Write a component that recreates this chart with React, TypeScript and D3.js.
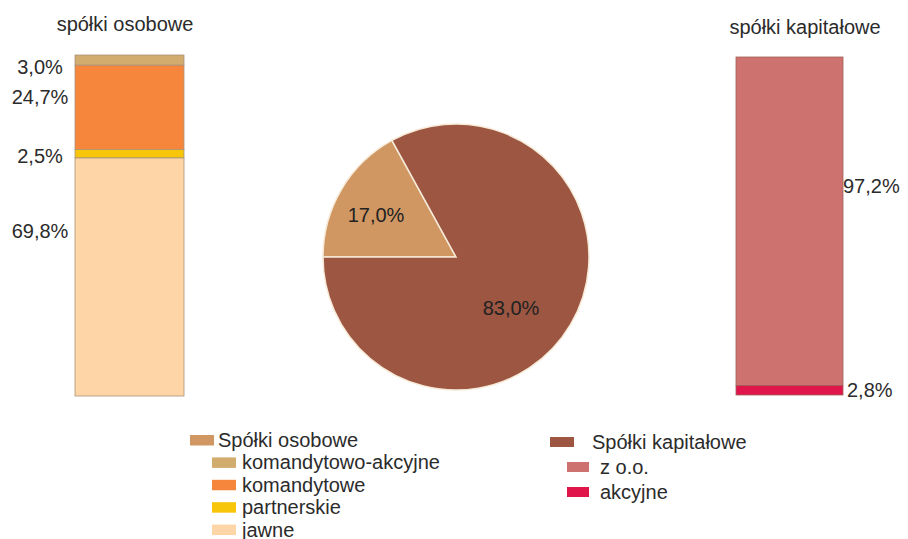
import React from "react";
import * as d3 from "d3";

const pieCategories = ["Spółki osobowe", "Spółki kapitałowe"];
const pieValues = [17.0, 83.0];
const pieLabels = ["17,0%", "83,0%"];

const osoboweCategories = ["komandytowo-akcyjne", "komandytowe", "partnerskie", "jawne"];
const osoboweValues = [3.0, 24.7, 2.5, 69.8];
const osoboweLabels = ["3,0%", "24,7%", "2,5%", "69,8%"];

const kapitaloweCategories = ["z o.o.", "akcyjne"];
const kapitaloweValues = [97.2, 2.8];
const kapitaloweLabels = ["97,2%", "2,8%"];

const W = 908;
const H = 539;
const FONT = "'Liberation Sans', Arial, sans-serif";
const TEXT = "#2b2b2b";
const FS = 20;

const pieColors = ["#D09763", "#9D5641"];
const osoboweColors = ["#D2AB6E", "#F5863C", "#F7C60A", "#FDD5A6"];
const kapitaloweColors = ["#CD726F", "#E0164A"];

function stack(values: number[]) {
  let acc = 0;
  return values.map((v) => {
    const s = acc;
    acc += v;
    return [s, acc];
  });
}

export default function App() {
  const yL = d3.scaleLinear().domain([0, 100]).range([55, 396]);
  const yR = d3.scaleLinear().domain([0, 100]).range([57, 395]);
  const xL = [75, 184];
  const xR = [736, 843];
  const stL = stack(osoboweValues);
  const stR = stack(kapitaloweValues);

  const pie = d3
    .pie<number>()
    .sort(null)
    .startAngle(-Math.PI / 2)
    .endAngle((3 * Math.PI) / 2)(pieValues);
  const r = 133;
  const arc = d3.arc<d3.PieArcDatum<number>>().innerRadius(0).outerRadius(r);
  const cx = 456;
  const cy = 257;
  const pieLabelPos = [
    [-80, -42],
    [55, 51],
  ];

  // label vertical offsets relative to segment start (px)
  const leftLabelOffsets = [12, 32, 6.5, 73];
  const rightLabelY = [yR(38.2), yR(98.6)];

  const legendLeft = [{ name: pieCategories[0], color: pieColors[0], sub: false }].concat(
    osoboweCategories.map((c, i) => ({ name: c, color: osoboweColors[i], sub: true }))
  );
  const legendRight = [{ name: pieCategories[1], color: pieColors[1], sub: false }].concat(
    kapitaloweCategories.map((c, i) => ({ name: c, color: kapitaloweColors[i], sub: true }))
  );

  return (
    <svg
      width={W}
      height={H}
      style={{ position: "absolute", left: 0, top: 0, background: "#fff" }}
      fontFamily={FONT}
    >
      {/* left title */}
      <text x={125} y={31} textAnchor="middle" fontSize={FS} fill={TEXT}>
        spółki osobowe
      </text>
      {/* left stacked bar */}
      {stL.map(([a, b], i) => (
        <rect
          key={i}
          x={xL[0]}
          y={yL(a)}
          width={xL[1] - xL[0]}
          height={yL(b) - yL(a)}
          fill={osoboweColors[i]}
          stroke="#a8927a"
          strokeWidth={0.8}
        />
      ))}
      {stL.map(([a], i) => (
        <text
          key={i}
          x={40}
          y={yL(a) + leftLabelOffsets[i]}
          textAnchor="middle"
          dominantBaseline="central"
          fontSize={FS}
          fill={TEXT}
        >
          {osoboweLabels[i]}
        </text>
      ))}

      {/* right title */}
      <text x={805} y={34} textAnchor="middle" fontSize={FS} fill={TEXT}>
        spółki kapitałowe
      </text>
      {stR.map(([a, b], i) => (
        <rect
          key={i}
          x={xR[0]}
          y={yR(a)}
          width={xR[1] - xR[0]}
          height={yR(b) - yR(a)}
          fill={kapitaloweColors[i]}
          stroke="#a0605a"
          strokeWidth={0.8}
        />
      ))}
      {kapitaloweLabels.map((l, i) => (
        <text
          key={i}
          x={i === 0 ? 843 : 847}
          y={rightLabelY[i]}
          dominantBaseline="central"
          fontSize={FS}
          fill={TEXT}
        >
          {l}
        </text>
      ))}

      {/* pie */}
      <g transform={`translate(${cx},${cy})`}>
        {pie.map((d, i) => (
          <path key={i} d={arc(d) || ""} fill={pieColors[i]} stroke="#f6ead8" strokeWidth={1.5} />
        ))}
        {pie.map((d, i) => (
          <text
            key={i}
            x={pieLabelPos[i][0]}
            y={pieLabelPos[i][1]}
            textAnchor="middle"
            dominantBaseline="central"
            fontSize={FS}
            fill="#222"
          >
            {pieLabels[i]}
          </text>
        ))}
      </g>

      {/* legends */}
      {legendLeft.map((d, i) => {
        const yc = 440 + i * 22.4;
        const sx = d.sub ? 212 : 190;
        return (
          <g key={i}>
            <rect x={sx} y={yc - 5} width={24} height={10.5} fill={d.color} />
            <text x={d.sub ? 242 : 218} y={yc} dominantBaseline="central" fontSize={FS} fill={TEXT}>
              {d.name}
            </text>
          </g>
        );
      })}
      {legendRight.map((d, i) => {
        const yc = 442 + i * 25;
        const sx = d.sub ? 567 : 550;
        return (
          <g key={i}>
            <rect x={sx} y={yc - 5} width={d.sub ? 22 : 24} height={10} fill={d.color} />
            <text x={d.sub ? 600 : 592} y={yc} dominantBaseline="central" fontSize={FS} fill={TEXT}>
              {d.name}
            </text>
          </g>
        );
      })}
    </svg>
  );
}
